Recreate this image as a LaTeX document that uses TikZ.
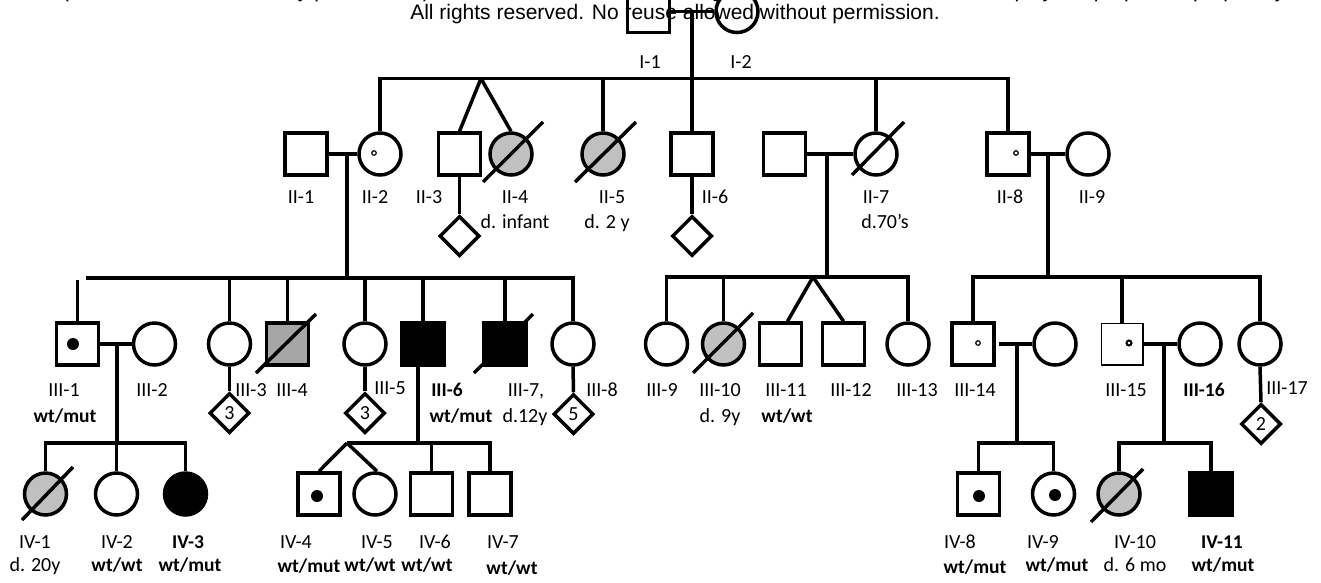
\documentclass[tikz,border=0pt]{standalone}
\usepackage{fontspec}
\setmainfont{Carlito}
\newfontfamily\arialf{Liberation Sans}
\usetikzlibrary{shapes.geometric,calc}
\definecolor{aff}{HTML}{C0C0C0}
\definecolor{affsq}{HTML}{A6A6A6}
\begin{document}
\begin{tikzpicture}[x=1pt,y=-1pt,
  ln/.style={line width=3.5pt},
  male/.style={draw,line width=3.5pt,rectangle,minimum size=42pt,inner sep=0pt},
  female/.style={draw,line width=3.5pt,circle,minimum size=42pt,inner sep=0pt},
  diam/.style={draw,line width=3.5pt,diamond,minimum size=40pt,inner sep=0pt,font=\fontsize{20}{20}\selectfont},
  lab/.style={anchor=base,inner sep=0pt,font=\fontsize{20}{20}\selectfont},
  blab/.style={anchor=base,inner sep=0pt,font=\fontsize{19.5}{20}\selectfont\bfseries},
  wm/.style={anchor=base,inner sep=0pt,font=\arialf\fontsize{21}{21}\selectfont},
  slash/.style={line width=3.5pt},
  dotf/.style={circle,fill=black,inner sep=0pt,minimum size=12pt},
  doto/.style={circle,draw,line width=1.2pt,inner sep=0pt,minimum size=4.5pt},
]
\useasboundingbox (0,0) rectangle (1321,582);
\clip (0,0) rectangle (1321,582);

% watermark
\node[wm] (wm2) at (676,-3) {(which was not certified by peer review) is the author/funder, who has granted medRxiv a license to display the preprint in perpetuity.};
\node[wm] (wm3) at (675,19) {All rights reserved. No reuse allowed without permission.};

% sibship levels
\coordinate (s2) at (0,78.5);
\coordinate (s3a) at (0,278);
\coordinate (s3a1) at (0,280);
\coordinate (s3b) at (0,277);
\coordinate (s3c) at (0,277);
\coordinate (s4) at (0,443);

% ---------- Generation I ----------
\node[male] (I1) at (648.5,11.5) {};
\node[female] (I2) at (737,11.5) {};
\draw[ln] (I1.east) -- (I2.west);
\coordinate (m1) at (692,11.5);

% ---------- Generation II ----------
\node[male] (II1) at (306,154) {};
\node[female] (II2) at (380,154) {};
\node[doto] (o1) at (374,153) {};
\node[male] (II3) at (459.5,154) {};
\node[female,fill=aff] (II4) at (511,154) {};
\node[female,fill=aff] (II5) at (603,154) {};
\node[male] (II6) at (692,154) {};
\node[male] (II7h) at (784.5,154) {};
\node[female] (II7) at (876,154) {};
\node[male] (II8) at (1008,154) {};
\node[doto] (o2) at (1016,153) {};
\node[female] (II9) at (1088,154) {};

\draw[slash] ($(II4)+(-28,28)$) -- ($(II4)+(32,-32)$);
\draw[slash] ($(II5)+(-28,28)$) -- ($(II5)+(33,-32)$);
\draw[slash] ($(II7)+(-24,21)$) -- ($(II7)+(28,-32)$);

\draw[ln] (m1) -- (II6.north);
\draw[ln] (II2.north) |- (II8.north |- s2) -- (II8.north);
\coordinate (tw1) at (481,78.5);
\draw[ln] (tw1) -- (II3.north);
\draw[ln] (tw1) -- (II4.north);
\draw[ln] (II5.north) -- (II5.north |- s2);
\draw[ln] (II7.north) -- (II7.north |- s2);

\node[diam] (D1) at (459.5,236) {};
\node[diam] (D2) at (692,236) {};
\draw[ln] (II3.south) -- (D1.north);
\draw[ln] (II6.south) -- (D2.north);

\draw[ln] (II1.east) -- (II2.west);
\coordinate (m2) at (347,154);
\draw[ln] (II7h.east) -- (II7.west);
\coordinate (m3) at (827,154);
\draw[ln] (II8.east) -- (II9.west);
\coordinate (m4) at (1048,154);

% ---------- Generation III ----------
\node[male] (III1) at (77.5,344) {};
\node[dotf] (f1) at (73,344) {};
\node[female] (III2) at (154.5,344) {};
\node[female] (III3) at (229.5,344) {};
\node[male,fill=affsq] (III4) at (287.5,344) {};
\node[female] (III5) at (365,344) {};
\node[male,fill=black] (III6) at (423,344) {};
\node[male,fill=black] (III7) at (505,344) {};
\node[female] (III8) at (573,344) {};

\draw[slash] ($(III4)+(-31.5,29)$) -- ($(III4)+(28.5,-30)$);
\draw[slash] ($(III7)+(-31,29)$) -- ($(III7)+(28,-30)$);

\draw[ln] (m2) -- (m2 |- s3a);
\coordinate (s3aL) at (86,278);
\draw[ln] (s3aL) -- (III8.north |- s3a) -- (III8.north);
\draw[ln] (III1.north) -- (III1.north |- s3a1);
\foreach \n in {III3,III4,III5,III6,III7} \draw[ln] (\n.north) -- (\n.north |- s3a);

\node[diam] (D3) at (229.5,413) {3};
\node[diam] (D4) at (365,413) {3};
\node[diam] (D5) at (573.5,414) {5};
\draw[ln] (III3.south) -- (D3.north);
\draw[ln] (III5.south) -- (D4.north);
\draw[ln] (III8.south) -- (D5.north);

\node[female] (III9) at (666.5,344) {};
\node[female,fill=aff] (III10) at (723.5,344) {};
\node[male] (III11) at (780.5,344) {};
\node[male] (III12) at (843.5,344) {};
\node[female] (III13) at (908,344) {};
\draw[slash] ($(III10)+(-30.5,29)$) -- ($(III10)+(29.5,-31)$);

\draw[ln] (m3) -- (m3 |- s3b);
\draw[ln] (III9.north) |- (III13.north |- s3b) -- (III13.north);
\draw[ln] (III10.north) -- (III10.north |- s3b);
\coordinate (tw3) at (813,277);
\draw[ln] (tw3) -- ([xshift=7pt]III11.north);
\draw[ln] (tw3) -- (III12.north);

\node[male] (III14) at (973,344) {};
\node[doto] (o3) at (978,343) {};
\node[female] (III14s) at (1055,344) {};
\node[male,line width=1.5pt,minimum size=41.5pt] (III15) at (1122,344) {};
\node[doto,line width=2pt,minimum size=5pt] (o4) at (1129,343) {};
\node[female] (III16) at (1200,344) {};
\node[female] (III17) at (1260,344) {};

\draw[ln] (m4) -- (m4 |- s3c);
\draw[ln] (III14.north) |- (III17.north |- s3c) -- (III17.north);
\draw[ln] (III15.north) -- (III15.north |- s3c);

\node[diam] (D6) at (1261,424) {2};
\draw[ln] (III17.south) -- (D6.north);

\draw[ln] (III1.east) -- (III2.west);
\coordinate (m7) at (117,344);
\draw[ln] ([xshift=3pt]III14.east) -- (III14s.west);
\coordinate (m5) at (1017,344);
\draw[ln] (III15.east) -- (III16.west);
\coordinate (m6) at (1164,344);

% ---------- Generation IV ----------
\node[female,fill=aff] (IV1) at (45.5,494) {};
\node[female] (IV2) at (116.5,494) {};
\node[female,fill=black] (IV3) at (185.5,494) {};
\draw[slash] ($(IV1)+(-23.5,26)$) -- ($(IV1)+(27.5,-27)$);
\draw[ln] (m7) -- (m7 |- s4);
\draw[ln] (IV1.north) |- (IV3.north |- s4) -- (IV3.north);
\draw[ln] (IV2.north) -- (IV2.north |- s4);

\node[male] (IV4) at (319,494) {};
\node[dotf] (f2) at (317,496) {};
\node[female] (IV5) at (375,494) {};
\node[male] (IV6) at (431.5,494) {};
\node[male] (IV7) at (490,494) {};
\draw[ln] ([xshift=-5pt]III6.south) -- ([xshift=-5pt]III6.south |- s4);
\coordinate (tw4) at (347,443);
\draw[ln] (tw4) -- (IV7.north |- s4) -- (IV7.north);
\draw[ln] (IV6.north) -- (IV6.north |- s4);
\draw[ln] (tw4) -- (IV4.north);
\draw[ln] (tw4) -- ([xshift=2pt]IV5.north);

\node[male] (IV8) at (978.5,494) {};
\node[dotf] (f3) at (979,496) {};
\node[female] (IV9) at (1053.5,494) {};
\node[dotf] (f4) at (1055,495) {};
\draw[ln] (m5) -- (m5 |- s4);
\draw[ln] (IV8.north) |- (IV9.north |- s4) -- (IV9.north);

\node[female,fill=aff] (IV10) at (1119,494) {};
\node[male,fill=black] (IV11) at (1211,494) {};
\draw[slash] ($(IV10)+(-28,28)$) -- ($(IV10)+(24,-25)$);
\draw[ln] (m6) -- (m6 |- s4);
\draw[ln] (IV10.north) |- (IV11.north |- s4) -- (IV11.north);

% ---------- Labels ----------
\node[lab] (tI1) at (650,68) {I-1};
\node[lab] (tI2) at (741,68) {I-2};

\node[lab] (tII1) at (301,203) {II-1};
\node[lab] (tII2) at (375,203) {II-2};
\node[lab] (tII3) at (429,203) {II-3};
\node[lab] (tII4) at (515,203) {II-4};
\node[lab] (tII5) at (612,203) {II-5};
\node[lab] (tII6) at (715,203) {II-6};
\node[lab] (tII7) at (876,203) {II-7};
\node[lab] (tII8) at (1010,203) {II-8};
\node[lab] (tII9) at (1092,203) {II-9};
\node[lab] (dII4) at (515,228) {d. infant};
\node[lab] (dII5) at (607,228) {d. 2 y};
\node[lab] (dII7) at (885,228) {d.70’s};

\node[lab] (tIII1) at (64,396) {III-1};
\node[lab] (tIII2) at (152,396) {III-2};
\node[lab] (tIII3) at (251,396) {III-3};
\node[lab] (tIII4) at (292,396) {III-4};
\node[lab] (tIII5) at (390,394) {III-5};
\node[blab] (tIII6) at (447,396) {III-6};
\node[lab] (tIII7) at (526,396) {III-7,};
\node[lab] (tIII8) at (602,396) {III-8};
\node[lab] (tIII9) at (662,396) {III-9};
\node[lab] (tIII10) at (720,396) {III-10};
\node[lab] (tIII11) at (786,396) {III-11};
\node[lab] (tIII12) at (851,396) {III-12};
\node[lab] (tIII13) at (917,396) {III-13};
\node[lab] (tIII14) at (975,396) {III-14};
\node[lab] (tIII15) at (1126,396) {III-15};
\node[blab] (tIII16) at (1204,396) {III-16};
\node[lab] (tIII17) at (1287,394) {III-17};

\node[blab] (gIII1) at (65,422) {wt/mut};
\node[blab] (gIII6) at (461,422) {wt/mut};
\node[lab] (dIII7) at (525,422) {d.12y};
\node[lab] (dIII10) at (720,422) {d. 9y};
\node[blab] (gIII11) at (787,422) {wt/wt};

\node[lab] (tIV1) at (35,548) {IV-1};
\node[lab] (tIV2) at (117,548) {IV-2};
\node[blab] (tIV3) at (188,548) {IV-3};
\node[lab] (tIV4) at (296,548) {IV-4};
\node[lab] (tIV5) at (377,548) {IV-5};
\node[lab] (tIV6) at (435,548) {IV-6};
\node[lab] (tIV7) at (503,548) {IV-7};
\node[lab] (tIV8) at (960,548) {IV-8};
\node[lab] (tIV9) at (1043,548) {IV-9};
\node[lab] (tIV10) at (1135,548) {IV-10};
\node[blab] (tIV11) at (1222,548) {IV-11};

\node[lab] (dIV1) at (35,571) {d. 20y};
\node[blab] (gIV2) at (117,571) {wt/wt};
\node[blab] (gIV3) at (190,571) {wt/mut};
\node[blab] (gIV4) at (309,572) {wt/mut};
\node[blab] (gIV5) at (370,571) {wt/wt};
\node[blab] (gIV6) at (427,571) {wt/wt};
\node[blab] (gIV7) at (512,574) {wt/wt};
\node[blab] (gIV8) at (975,573) {wt/mut};
\node[blab] (gIV9) at (1057,571) {wt/mut};
\node[lab] (dIV10) at (1135,571) {d. 6 mo};
\node[blab] (gIV11) at (1223,571) {wt/mut};
\end{tikzpicture}
\end{document}
